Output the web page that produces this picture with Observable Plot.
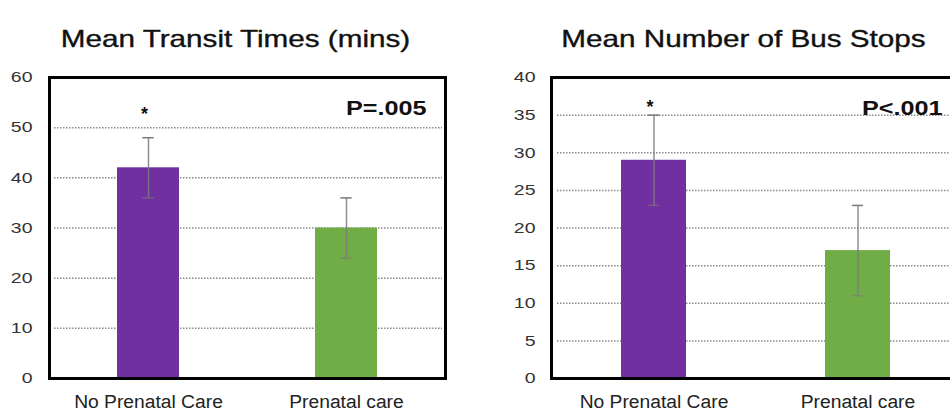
<!DOCTYPE html>
<html>
<head>
<meta charset="utf-8">
<script src="https://cdn.jsdelivr.net/npm/d3@7"></script>
<script src="https://cdn.jsdelivr.net/npm/@observablehq/plot@0.6"></script>
<style>
  html, body { margin: 0; padding: 0; background: #fff; }
  #wrap { position: relative; width: 950px; height: 411px; overflow: hidden; background: #fff; }
  #wrap > div { position: absolute; top: 0; }
  #wrap svg { max-width: none !important; display: block; }
</style>
</head>
<body>
<div id="wrap"><div id="p1" style="left:0;width:475px"></div><div id="p2" style="left:475px;width:500px"></div></div>
<script>
// ---- data ----
const categories = ["No Prenatal Care", "Prenatal care"];

const transitTitle = "Mean Transit Times (mins)";
const transitMeans = [42, 30];
const transitLow = [36, 24];
const transitHigh = [48, 36];
const transitTicks = [0, 10, 20, 30, 40, 50, 60];
const transitP = "P=.005";
const transitStar = 52.7;

const stopsTitle = "Mean Number of Bus Stops";
const stopsMeans = [29, 17];
const stopsLow = [23, 11];
const stopsHigh = [35, 23];
const stopsTicks = [0, 5, 10, 15, 20, 25, 30, 35, 40];
const stopsP = "P<.001";
const stopsStar = 36;

const barColors = ["#7030a0", "#70ad47"];
const FONT = "'Liberation Sans', Arial, Helvetica, sans-serif";

function stretchEl(t, sx) {
  const tr = t.getAttribute("transform") || "";
  t.setAttribute("transform", (tr + ` scale(${sx},1)`).trim());
}
function stretchGroup(svg, label, sx) {
  svg.querySelectorAll(`g[aria-label="${label}"] text`).forEach(t => stretchEl(t, sx));
}
function stretchText(svg, str, sx) {
  svg.querySelectorAll("text").forEach(t => { if (t.textContent === str) stretchEl(t, sx); });
}

function panel(cfg) {
  const rows = categories.map((c, i) => ({cat: c, mean: cfg.means[i], lo: cfg.low[i], hi: cfg.high[i]}));
  const maxY = cfg.ticks[cfg.ticks.length - 1];
  const grid = cfg.ticks.filter(t => t > 0 && t < maxY);
  const capInset = (cfg.bw - 11) / 2;
  const svg = Plot.plot({
    width: cfg.width,
    height: 411,
    marginLeft: cfg.ml,
    marginRight: cfg.mr,
    marginTop: 77,
    marginBottom: 33,
    style: {fontFamily: FONT, background: "transparent", overflow: "visible"},
    x: {domain: categories, paddingInner: cfg.pi, paddingOuter: cfg.pi / 2},
    y: {domain: [0, maxY]},
    color: {domain: categories, range: barColors},
    marks: [
      Plot.ruleY(grid, {stroke: "#8a8a8a", strokeWidth: 1.5, strokeDasharray: "1.5,1.5", insetLeft: cfg.gl, insetRight: 3}),
      Plot.barY(rows, {x: "cat", y: "mean", fill: "cat"}),
      Plot.ruleX(rows, {x: "cat", y1: "lo", y2: "hi", stroke: "#7a7a7a", strokeWidth: 1.5, strokeOpacity: 0.85}),
      Plot.tickY(rows, {x: "cat", y: "hi", stroke: "#7a7a7a", strokeWidth: 1.5, insetLeft: capInset, insetRight: capInset}),
      Plot.tickY(rows, {x: "cat", y: "lo", stroke: "#7a7a7a", strokeWidth: 1.5, strokeOpacity: 0.6, insetLeft: capInset, insetRight: capInset}),
      Plot.text([{cat: categories[0], y: cfg.star}], {x: "cat", y: "y", text: () => "*", fontSize: 18, fontWeight: "bold", fill: "#111", dx: -4}),
      Plot.text([cfg.p], {text: d => d, frameAnchor: "top-right", dx: cfg.pdx, dy: 23, fontSize: 21, fontWeight: "bold", fill: "#111"}),
      Plot.frame({stroke: "#000", strokeWidth: 3}),
      Plot.text([cfg.title], {text: d => d, frameAnchor: "top", lineAnchor: "bottom", dx: -12, dy: -31, fontSize: 23, fill: "#111", stroke: "#111", strokeWidth: 0.35}),
      Plot.axisY(cfg.ticks, {tickSize: 0, tickPadding: cfg.tp, fontSize: 15, fill: "#333", stroke: "#333", strokeWidth: 0.5, label: null}),
      Plot.axisX({tickSize: 0, tickPadding: 17, fontSize: 18, fill: "#222", stroke: "#222", strokeWidth: 0.4, label: null})
    ]
  });
  stretchText(svg, cfg.title, 1.29);
  stretchText(svg, cfg.p, 1.2);
  stretchGroup(svg, "y-axis tick label", 1.3);
  stretchGroup(svg, "x-axis tick label", 1.07);
  return svg;
}

document.getElementById("p1").appendChild(panel({
  title: transitTitle, means: transitMeans, low: transitLow, high: transitHigh, ticks: transitTicks,
  p: transitP, star: transitStar, width: 475, ml: 49, mr: 30, pi: 0.688, bw: 61.7, gl: 5, tp: 17, pdx: -19
}));
document.getElementById("p2").appendChild(panel({
  title: stopsTitle, means: stopsMeans, low: stopsLow, high: stopsHigh, ticks: stopsTicks,
  p: stopsP, star: stopsStar, width: 500, ml: 76, mr: 16, pi: 0.682, bw: 65, gl: 6, tp: 16, pdx: -17
}));
</script>
</body>
</html>
